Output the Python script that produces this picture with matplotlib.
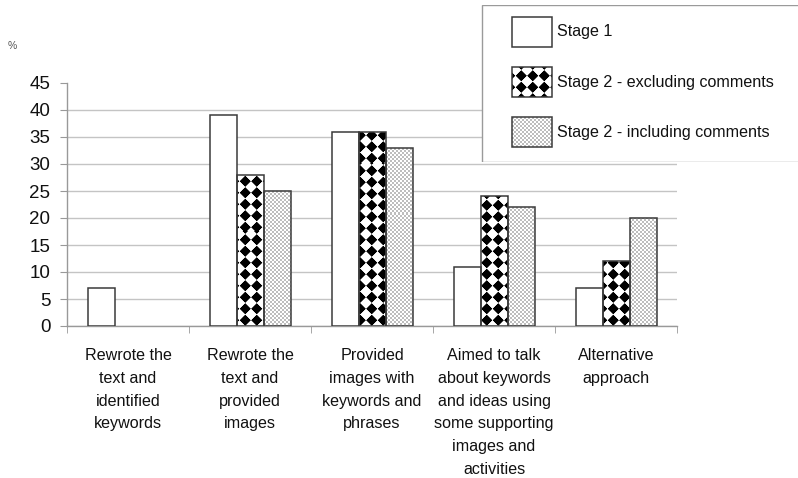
import numpy as np
import matplotlib
matplotlib.use("Agg")
from matplotlib import pyplot as plt
from matplotlib.patches import Rectangle

plt.rcParams["font.family"] = ["Liberation Sans", "DejaVu Sans"]

categories = [
    "Rewrote the\ntext and\nidentified\nkeywords",
    "Rewrote the\ntext and\nprovided\nimages",
    "Provided\nimages with\nkeywords and\nphrases",
    "Aimed to talk\nabout keywords\nand ideas using\nsome supporting\nimages and\nactivities",
    "Alternative\napproach",
]
series_names = ["Stage 1", "Stage 2 - excluding comments",
                "Stage 2 - including comments"]
stage1 = [7, 39, 36, 11, 7]
stage2_excl = [0, 28, 36, 24, 12]
stage2_incl = [0, 25, 33, 22, 20]
yticks = [0, 5, 10, 15, 20, 25, 30, 35, 40, 45]

W, H, DPI = 798, 478, 100
EDGE = "#3a3a3a"


def texture(kind, h, w):
    """RGB fill pattern in pixel units (white background)."""
    yy, xx = np.mgrid[0:h, 0:w] + 0.5
    if kind == "diamond":
        p, r = 11.5, 5.6
        d = np.abs((xx % p) - p / 2) + np.abs((yy % p) - p / 2)
        ink = np.clip(r - d + 0.5, 0, 1)
        tone = 1 - ink
    elif kind == "dots":
        p = 4.0
        d1 = np.hypot((xx % p) - p / 2, (yy % p) - p / 2)
        d2 = np.hypot(((xx + p / 2) % p) - p / 2, ((yy + p / 2) % p) - p / 2)
        ink = np.clip(1.1 - np.minimum(d1, d2), 0, 1)
        tone = 1 - 0.65 * ink
    else:
        tone = np.ones((h, w))
    return np.dstack([tone] * 3)


def fill_patch(target_ax, patch, tex):
    im = target_ax.imshow(tex, extent=(0, 1, 0, 1), transform=target_ax.transAxes,
                          origin="lower", interpolation="nearest",
                          aspect="auto", zorder=2)
    im.set_clip_path(patch)


fig = plt.figure(figsize=(W / DPI, H / DPI), dpi=DPI)
ax_l, ax_b, ax_w, ax_h = 67, 326, 610, 243
ax = fig.add_axes([ax_l / W, (H - ax_b) / H, ax_w / W, ax_h / H])

x = np.arange(len(categories))
bw = 27 / 122
kinds = ["plain", "diamond", "dots"]
for i, (vals, kind) in enumerate(zip([stage1, stage2_excl, stage2_incl], kinds)):
    face = "white" if kind == "plain" else "none"
    bars = ax.bar(x + (i - 1) * bw, vals, width=bw, facecolor=face,
                  edgecolor=EDGE, linewidth=1.1, zorder=3)
    if kind != "plain":
        tex = texture(kind, ax_h, ax_w)
        for b, v in zip(bars, vals):
            if v > 0:
                fill_patch(ax, b, tex)
            else:
                b.set_visible(False)

ax.set_xlim(-0.5, len(categories) - 0.5)
ax.set_ylim(0, 45)
ax.set_yticks(yticks)
ax.tick_params(axis="y", labelsize=13.5, length=5, color="#999999",
               pad=7, labelcolor="#111111")
ax.yaxis.grid(True, color="#c4c4c4", linewidth=1.0, zorder=0)
ax.yaxis.get_gridlines()[-1].set_visible(False)
ax.set_axisbelow(True)

ax.set_xticks(x)
ax.set_xticklabels(categories, fontsize=11.6, linespacing=1.64,
                   color="#111111", va="top")
ax.set_xticks(np.arange(len(categories) + 1) - 0.5, minor=True)
ax.tick_params(axis="x", which="major", length=0, pad=16)
ax.tick_params(axis="x", which="minor", length=5, color="#999999")

for side in ["top", "right"]:
    ax.spines[side].set_visible(False)
for side in ["left", "bottom"]:
    ax.spines[side].set_color("#999999")
    ax.spines[side].set_linewidth(1.0)

fig.text(12 / W, 1 - 46 / H, "%", fontsize=7.5, color="#555555",
         ha="center", va="center")

# legend box, laid out in pixel units
leg = fig.add_axes([481 / W, 1 - 162 / H, (W - 481) / W, 157 / H])
leg.axis("off")
leg.add_patch(Rectangle((0.5, 0.5), W, 156, facecolor="white",
                        edgecolor="#9a9a9a", linewidth=1.0, zorder=1))
for i, (name, kind) in enumerate(zip(series_names, kinds)):
    cy = 27 + 50 * i
    sw = Rectangle((31, cy - 15), 40, 30, facecolor="white" if kind == "plain"
                   else "none", edgecolor=EDGE, linewidth=1.1, zorder=3)
    leg.add_patch(sw)
    if kind != "plain":
        fill_patch(leg, sw, texture(kind, 157, W - 481))
    leg.text(76, cy, name, fontsize=11.6, color="#111111",
             ha="left", va="center")
leg.set_xlim(0, W - 481)
leg.set_ylim(157, 0)

ax.set_xlim(-0.5, len(categories) - 0.5)
ax.set_ylim(0, 45)

fig.savefig("out.png", dpi=DPI)
